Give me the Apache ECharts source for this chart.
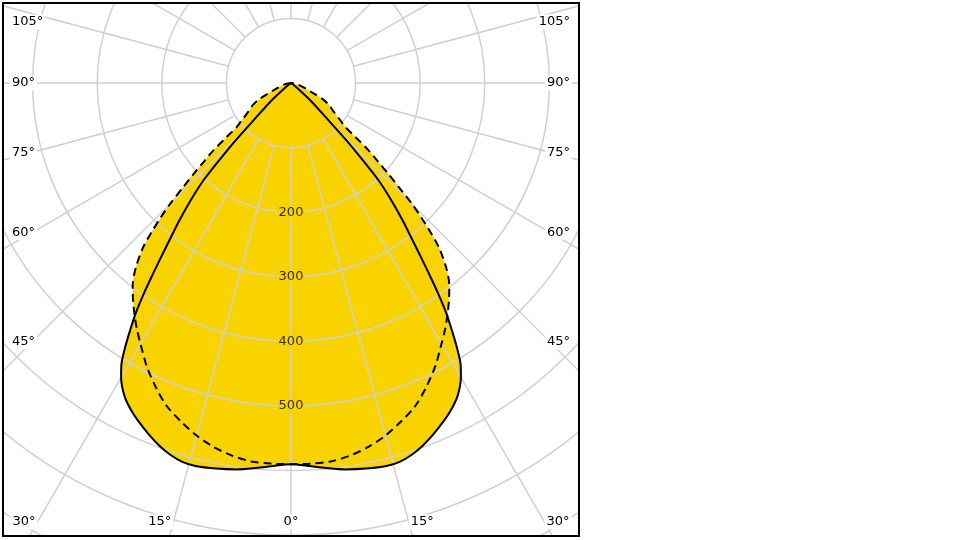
<!DOCTYPE html>
<html><head><meta charset="utf-8">
<script src="https://cdn.jsdelivr.net/npm/echarts@6/dist/echarts.min.js"></script>
<style>
html,body{margin:0;padding:0;background:#fff;width:960px;height:540px;overflow:hidden}
#frame{position:absolute;left:2px;top:2px;width:578px;height:535px;border:2px solid #000;box-sizing:border-box;overflow:hidden}
#chart{width:574px;height:531px}
</style></head><body>
<div id="frame"><div id="chart"></div></div>
<script>
// Photometric angle (degrees from nadir) and luminous intensity (cd/klm)
const anglesSolid = [0,3,5,8,11,14,16,18,20,22,24,26,28,30,31,32,33,34,35,36,37,38,39,40,41,42,43,44,45,48,52,60,75,90];
const cdSolid     = [590,594,598,604,608,611,610,605,597,587,576,564,549,526,510,486,458,430,396,360,328,300,276,252,228,202,160,122,85,40,10,0,0,0];
const anglesDashed = [0,3,6,9,12,15,18,21,24,27,30,32,34,36,38,40,42,43,44,45,46,47,48,49,50,51,53,56,60,63,65,70,80,90];
const cdDashed     = [590,590,589,584,576,565,551,536,515,492,466,450,433,416,398,374,342,318,292,265,232,205,180,160,130,108,95,80,68,55,40,22,8,0];
const angleTicks = [0,15,30,45,60,75,90,105];
const radiusLabels = [200,300,400,500];

const YELLOW = '#f8d300';
const GRID = '#d0d0d0';
const FONT = 'DejaVu Sans';
const CX = 287, CY = 79;       // polar centre inside the chart canvas
const R_MAX = 581.4;           // px for 900 cd
const R_IN = 64.6;             // px for 100 cd

// Both halves: left side uses value = gamma, right side uses 360 - gamma
function toPolar(angles, vals){
  const out = [];
  for (let i = angles.length - 1; i >= 0; i--) out.push([vals[i], angles[i]]);
  for (let i = 1; i < angles.length; i++) out.push([vals[i], 360 - angles[i]]);
  return out;
}
const solidData = toPolar(anglesSolid, cdSolid);
const dashedData = toPolar(anglesDashed, cdDashed);

// Angle tick labels placed where each radial ray meets the frame
const graphics = [];
const BOTTOM_Y = 518, SIDE_D = 259, RIGHT_X = 568, LEFT_X = 6, TOP_Y = 18;
angleTicks.forEach(g => {
  const sides = g === 0 ? [0] : [-1, 1];
  sides.forEach(s => {
    const rad = g * Math.PI / 180;
    const sn = Math.sin(rad), cs = Math.cos(rad);
    let x, y, align;
    if (s === 0) { x = CX; y = BOTTOM_Y; align = 'center'; }
    else {
      const tB = cs > 1e-6 ? (BOTTOM_Y - CY) / cs : Infinity;
      const tS = SIDE_D / sn;
      if (tB <= tS) { x = CX + s * tB * sn; y = BOTTOM_Y; align = s > 0 ? 'left' : 'right'; }
      else { y = Math.max(TOP_Y, CY + tS * cs); x = s > 0 ? RIGHT_X : LEFT_X; align = s > 0 ? 'right' : 'left'; }
    }
    graphics.push({
      type: 'text', z: 10,
      style: { text: g + '°', x: x, y: y, align: align, verticalAlign: 'middle',
               fill: '#000', font: '13px "' + FONT + '"', backgroundColor: '#fff', padding: [1, 2] }
    });
  });
});

const chart = echarts.init(document.getElementById('chart'), null, {renderer: 'canvas'});
chart.setOption({
  animation: false,
  backgroundColor: '#fff',
  polar: [
    {center: [CX, CY], radius: [R_IN, R_MAX]},
    {center: [CX, CY], radius: [0, R_MAX]}
  ],
  angleAxis: [
    {polarIndex: 0, type: 'value', min: 0, max: 360, interval: 15, startAngle: 270, clockwise: true, z: 2,
     axisLine: {show: false}, axisTick: {show: false}, axisLabel: {show: false},
     splitLine: {show: true, lineStyle: {color: GRID, width: 1.5}}},
    {polarIndex: 1, type: 'value', min: 0, max: 360, interval: 15, startAngle: 270, clockwise: true, show: false}
  ],
  radiusAxis: [
    {polarIndex: 0, type: 'value', min: 100, max: 900, interval: 100, z: 2,
     axisLine: {show: false}, axisTick: {show: false}, axisLabel: {show: false},
     splitLine: {show: true, lineStyle: {color: GRID, width: 1.5}}},
    {polarIndex: 1, type: 'value', min: 0, max: 900, interval: 100, show: false}
  ],
  series: [
    {type: 'line', coordinateSystem: 'polar', polarIndex: 1, data: solidData, symbol: 'none', smooth: 0.3,
     lineStyle: {width: 0, opacity: 0}, areaStyle: {color: YELLOW, opacity: 1}, z: 1, silent: true},
    {type: 'line', coordinateSystem: 'polar', polarIndex: 1, data: dashedData, symbol: 'none', smooth: 0.3,
     lineStyle: {width: 0, opacity: 0}, areaStyle: {color: YELLOW, opacity: 1}, z: 1, silent: true},
    {type: 'line', coordinateSystem: 'polar', polarIndex: 1, data: solidData, symbol: 'none', smooth: 0.3,
     lineStyle: {color: '#000', width: 2}, z: 3, silent: true},
    {type: 'line', coordinateSystem: 'polar', polarIndex: 1, data: dashedData, symbol: 'none', smooth: 0.3,
     lineStyle: {color: '#000', width: 2, type: [8, 5]}, z: 3, silent: true},
    {type: 'scatter', coordinateSystem: 'polar', polarIndex: 1, data: radiusLabels.map(v => [v, 0]),
     symbolSize: 1, itemStyle: {color: 'transparent'}, z: 4, silent: true,
     label: {show: true, position: 'inside', formatter: p => String(p.value[0]), color: '#000',
             fontSize: 13, fontFamily: FONT, backgroundColor: YELLOW, padding: [1, 2]}}
  ],
  graphic: graphics
});
</script>
</body></html>
